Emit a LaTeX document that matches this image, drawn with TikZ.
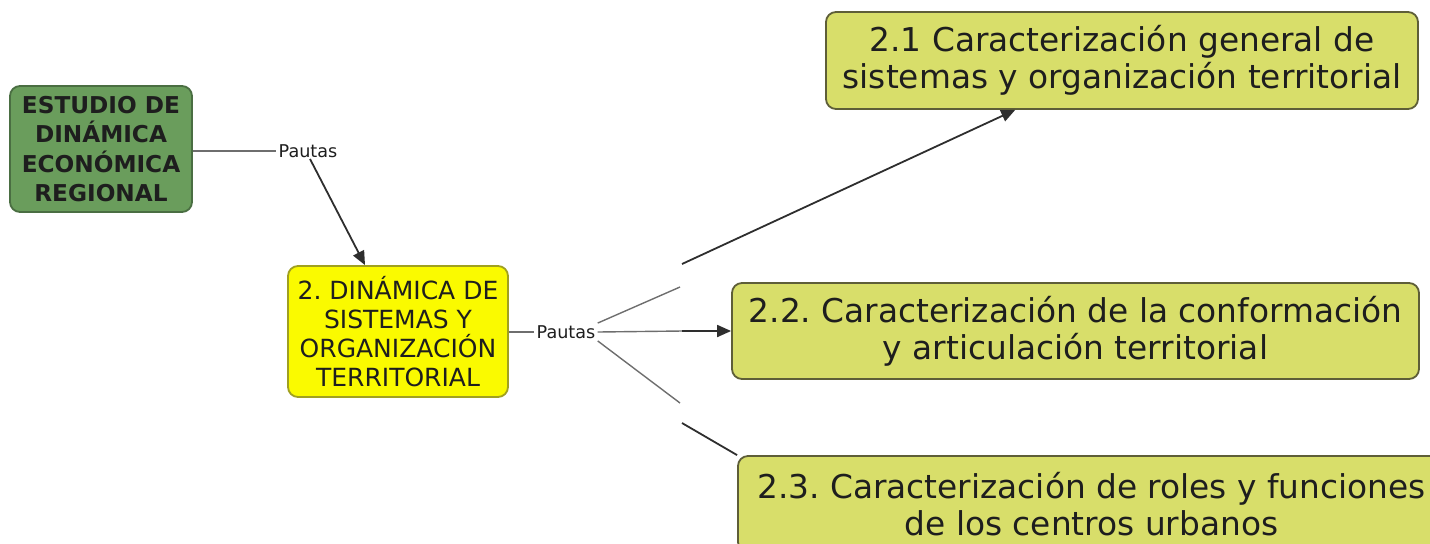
\documentclass[tikz,border=0pt]{standalone}
\usepackage{fontspec}
\setmainfont{DejaVu Sans}
\usetikzlibrary{arrows.meta}
\definecolor{gfill}{HTML}{6A9D5C}
\definecolor{gdraw}{HTML}{4A6E42}
\definecolor{yfill}{HTML}{FAFA00}
\definecolor{ydraw}{HTML}{A0A020}
\definecolor{lfill}{HTML}{D8DE6A}
\definecolor{ldraw}{HTML}{5E5E38}
\definecolor{txt}{HTML}{1E1E1E}
\definecolor{lnlight}{HTML}{6E6E6E}
\definecolor{lndark}{HTML}{2E2E2E}
\frenchspacing
\begin{document}
\begin{tikzpicture}[x=0.5pt,y=-0.5pt,
  box/.style={rounded corners=5pt,line width=0.9pt,align=center,inner sep=0pt,text=txt},
  topbox/.style={box,fill=gfill,draw=gdraw,font=\bfseries\fontsize{11.6}{14.6}\selectfont},
  midbox/.style={box,fill=yfill,draw=ydraw,font=\fontsize{12.5}{14.6}\selectfont},
  subbox/.style={box,fill=lfill,draw=ldraw,font=\fontsize{16.4}{18.4}\selectfont},
  lbl/.style={inner sep=1pt,font=\fontsize{8.8}{10}\selectfont,text=txt},
  thin/.style={draw=lnlight,line width=0.7pt},
  thick/.style={draw=lndark,line width=0.9pt},
  tip/.style={-{Triangle[length=7pt,width=6pt]}}]
\useasboundingbox (0,0) rectangle (1430,543);
\clip (0,0) rectangle (1430,543);
\node[topbox,minimum width=91pt,minimum height=63pt] (A) at (101,149)
  {ESTUDIO DE\\DINÁMICA\\ECONÓMICA\\REGIONAL};
\node[midbox,minimum width=110pt,minimum height=65.5pt] (B) at (398,331.5)
  {2. DINÁMICA DE\\SISTEMAS Y\\ORGANIZACIÓN\\TERRITORIAL};
\node[subbox,minimum width=296pt,minimum height=48.5pt] (N21) at (1122,60.5)
  {2.1 Caracterización general de\\sistemas y organización territorial};
\node[subbox,minimum width=343.5pt,minimum height=48pt] (N22) at (1075.5,331)
  {2.2. Caracterización de la conformación\\y articulación territorial};
\node[subbox,minimum width=353.5pt,minimum height=48pt] (N23) at (1091.5,504)
  {2.3. Caracterización de roles y funciones\\de los centros urbanos};
\node[lbl] (P1) at (308,151) {Pautas};
\node[lbl] (P2) at (566,332) {Pautas};
\coordinate (k1a) at (680,287);
\coordinate (k1b) at (682,264);
\coordinate (k2) at (682,331);
\coordinate (k3a) at (680,403);
\coordinate (k3b) at (682,423);
\draw[thin] (A.east |- P1.west) -- (P1.west);
\draw[thick,tip] (P1.south) ++(2,-1) -- (B.north -| 365,0);
\draw[thin] (B.east |- P2.west) -- (P2.west);
\draw[thin] (P2.north east) -- (k1a);
\draw[thick,tip] (k1b) -- (N21);
\draw[thin] (P2.east) -- (k2);
\draw[thick,tip] (k2) -- (N22.west);
\draw[thin] (P2.south east) -- (k3a);
\draw[thick] (k3b) -- (N23.north west);
\end{tikzpicture}
\end{document}
